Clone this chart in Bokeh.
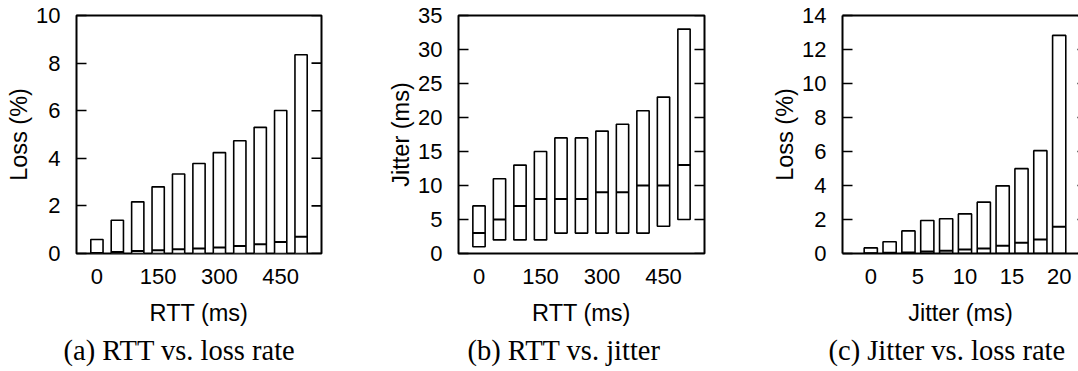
import math
from bokeh.plotting import figure
from bokeh.layouts import row
from bokeh.models import Range1d, FixedTicker, LinearAxis, Title, ColumnDataSource
from bokeh.embed import file_html
from bokeh.resources import INLINE

# ---- data ----
rtt_ms = [0, 50, 100, 150, 200, 250, 300, 350, 400, 450, 500]
rtt_loss_low = [0, 0, 0, 0, 0, 0, 0, 0, 0, 0, 0]
rtt_loss_median = [0.02, 0.06, 0.10, 0.14, 0.18, 0.21, 0.25, 0.31, 0.39, 0.48, 0.70]
rtt_loss_high = [0.59, 1.40, 2.17, 2.80, 3.34, 3.78, 4.24, 4.74, 5.30, 6.01, 8.35]

rtt_jitter_low = [1, 2, 2, 2, 3, 3, 3, 3, 3, 4, 5]
rtt_jitter_median = [3, 5, 7, 8, 8, 8, 9, 9, 10, 10, 13]
rtt_jitter_high = [7, 11, 13, 15, 17, 17, 18, 19, 21, 23, 33]

jitter_ms = [0, 2, 4, 6, 8, 10, 12, 14, 16, 18, 20]
jit_loss_low = [0, 0, 0, 0, 0, 0, 0, 0, 0, 0, 0]
jit_loss_median = [0.02, 0.04, 0.06, 0.12, 0.16, 0.24, 0.29, 0.45, 0.63, 0.82, 1.57]
jit_loss_high = [0.33, 0.69, 1.33, 1.94, 2.04, 2.33, 3.02, 3.98, 4.99, 6.05, 12.83]

rtt_ticks = [0, 150, 300, 450]
jitter_ticks = [0, 5, 10, 15, 20]
loss_ticks_a = [0, 2, 4, 6, 8, 10]
jitter_y_ticks = [0, 5, 10, 15, 20, 25, 30, 35]
loss_ticks_c = [0, 2, 4, 6, 8, 10, 12, 14]

SANS = "Liberation Sans"
SERIF = "Liberation Serif"
TICK_FS = "22px"
LABEL_FS = "23.5px"


def panel(width, bl, br, xr, yr, xs, lows, meds, highs, bw, xticks, yticks,
          xlabel, ylabel, caption, cap_offset, clipped=False, x_full_end=None):
    p = figure(width=width, height=371, output_backend="svg", toolbar_location=None,
               x_range=Range1d(*xr), y_range=Range1d(*yr),
               min_border_left=bl, min_border_right=br,
               min_border_top=15, min_border_bottom=118)
    p.grid.visible = False
    p.background_fill_color = "white"
    p.border_fill_color = "white"
    if clipped:
        p.outline_line_color = None
    else:
        p.outline_line_color = "black"
        p.outline_line_width = 2

    src = ColumnDataSource(dict(
        left=[x - bw / 2 for x in xs], right=[x + bw / 2 for x in xs],
        low=lows, med=meds, high=highs))
    p.quad(left="left", right="right", bottom="low", top="high", source=src,
           fill_color="white", line_color="black", line_width=1.6)
    p.segment(x0="left", x1="right", y0="med", y1="med", source=src,
              line_color="black", line_width=2)

    # inward ticks on the right-hand border (mirror of the left ticks)
    right_edge = x_full_end if x_full_end is not None else xr[1]
    p.ray(x=[right_edge] * len(yticks), y=yticks, length=10, length_units="screen",
          angle=math.pi, line_color="black", line_width=1.6)

    xa = p.xaxis[0]
    xa.ticker = FixedTicker(ticks=xticks)
    xa.major_tick_in = 0
    xa.major_tick_out = 0
    xa.minor_tick_line_color = None
    xa.major_label_text_font = SANS
    xa.major_label_text_font_size = TICK_FS
    xa.major_label_text_color = "black"
    xa.major_label_standoff = 15
    xa.axis_label = xlabel
    xa.axis_label_text_font = SANS
    xa.axis_label_text_font_size = LABEL_FS
    xa.axis_label_text_font_style = "normal"
    xa.axis_label_text_color = "black"
    xa.axis_label_standoff = 13
    if clipped:
        xa.axis_line_color = "black"
        xa.axis_line_width = 2
    else:
        xa.axis_line_color = None

    ya = p.yaxis[0]
    ya.ticker = FixedTicker(ticks=yticks)
    ya.major_tick_in = 10
    ya.major_tick_out = 0
    ya.major_tick_line_width = 1.6
    ya.minor_tick_line_color = None
    ya.major_label_text_font = SANS
    ya.major_label_text_font_size = TICK_FS
    ya.major_label_text_color = "black"
    ya.major_label_standoff = 16
    ya.axis_label = ylabel
    ya.axis_label_text_font = SANS
    ya.axis_label_text_font_size = LABEL_FS
    ya.axis_label_text_font_style = "normal"
    ya.axis_label_text_color = "black"
    ya.axis_label_standoff = 1
    if clipped:
        ya.axis_line_color = "black"
        ya.axis_line_width = 2
    else:
        ya.axis_line_color = None

    if clipped:
        ta = LinearAxis(ticker=FixedTicker(ticks=[]),
                        major_tick_in=0, major_tick_out=0,
                        major_tick_line_color=None, minor_tick_line_color=None,
                        axis_line_color="black", axis_line_width=2,
                        major_label_standoff=0)
        p.add_layout(ta, "above")

    p.add_layout(Title(text=caption, align="left", offset=cap_offset,
                       text_font=SERIF, text_font_size="28.5px", text_font_style="normal",
                       text_color="black", standoff=8), "below")
    return p


pa = panel(380, 76, 59, (-50, 550), (0, 10), rtt_ms, rtt_loss_low, rtt_loss_median,
           rtt_loss_high, 30, rtt_ticks, loss_ticks_a, "RTT (ms)", "Loss (%)",
           "(a) RTT vs. loss rate", -13)
pb = panel(380, 78, 56, (-50, 550), (0, 35), rtt_ms, rtt_jitter_low, rtt_jitter_median,
           rtt_jitter_high, 30, rtt_ticks, jitter_y_ticks, "RTT (ms)", "Jitter (ms)",
           "(b) RTT vs. jitter", 9)
pc = panel(318, 82, 0, (-3, 22.05), (0, 14), jitter_ms, jit_loss_low, jit_loss_median,
           jit_loss_high, 1.4, jitter_ticks, loss_ticks_c, "Jitter (ms)", "Loss (%)",
           "(c) Jitter vs. loss rate", -14, clipped=True, x_full_end=23)

layout = row(pa, pb, pc, spacing=0)
open("out.html", "w").write(file_html(layout, INLINE))
